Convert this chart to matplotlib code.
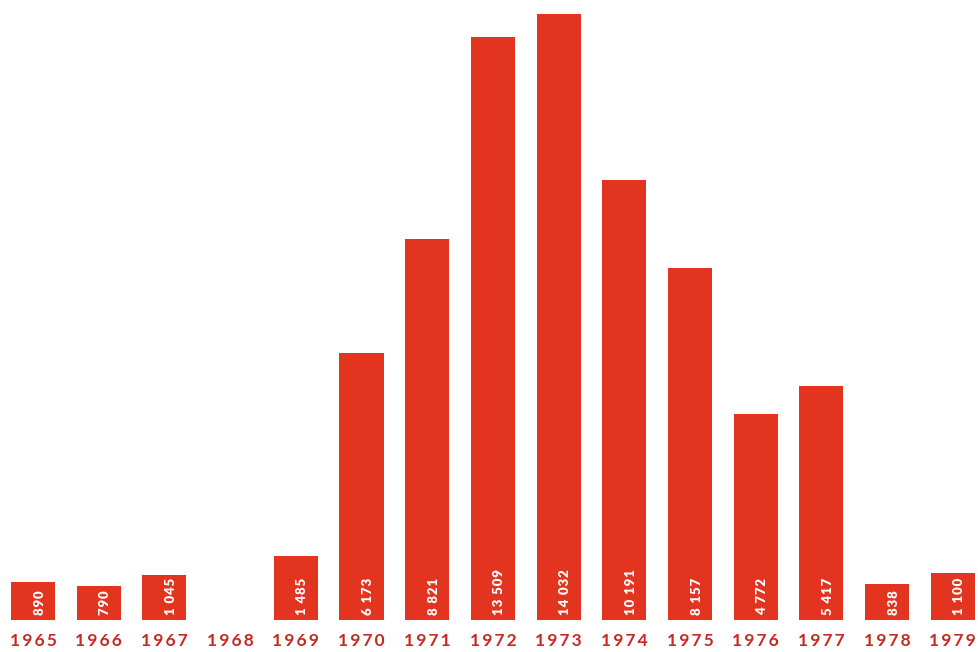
import matplotlib.pyplot as plt

# Yearly values (1968 has no bar)
years = ["1965", "1966", "1967", "1968", "1969", "1970", "1971", "1972",
         "1973", "1974", "1975", "1976", "1977", "1978", "1979"]
values = [890, 790, 1045, 0, 1485, 6173, 8821, 13509,
          14032, 10191, 8157, 4772, 5417, 838, 1100]
value_labels = ["890", "790", "1 045", "", "1 485", "6 173", "8 821", "13 509",
                "14 032", "10 191", "8 157", "4 772", "5 417", "838", "1 100"]

bar_color = "#e2341f"
year_color = "#c42a22"


def spaced(s):
    # widen letter spacing a little, like the printed original
    return "\u200a".join(s)


fig = plt.figure(figsize=(9.79, 6.52), dpi=100)
ax = fig.add_axes([0, 0.049, 1, 0.951])

x = list(range(len(years)))
ax.bar(x, values, width=0.67, color=bar_color, linewidth=0)

for i, (v, lab) in enumerate(zip(values, value_labels)):
    if v == 0:
        continue
    ax.text(i + 0.1, 110, spaced(lab), rotation=90, ha="center", va="bottom",
            color="white", fontsize=9.5, fontweight="heavy",
            family=["Lato", "DejaVu Sans"])

for i, yr in enumerate(years):
    ax.text(i, -0.021, "\u2009".join(yr), transform=ax.get_xaxis_transform(),
            ha="center", va="top", color=year_color, fontsize=12.5,
            fontweight="bold", family=["Lato", "DejaVu Sans"])

ax.set_xlim(-0.502, 14.398)
ax.set_ylim(0, 14356)
ax.axis("off")

plt.savefig("out.png", dpi=100)
plt.close()
